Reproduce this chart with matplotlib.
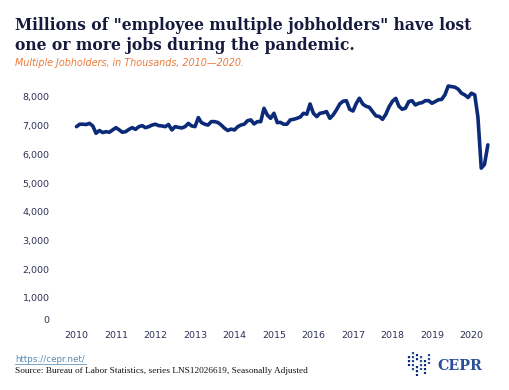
import numpy as np
import pandas as pd
import matplotlib
matplotlib.use("Agg")
import matplotlib.pyplot as plt
import matplotlib.dates as mdates
import matplotlib.transforms as mtransforms
from matplotlib.lines import Line2D
from matplotlib.ticker import FuncFormatter

# monthly values, thousands (Jan 2010 - Jun 2020)
v2010 = [6965, 7050, 7050, 7040, 7080, 6990, 6735, 6830, 6760, 6790, 6770, 6850]
v2011 = [6930, 6850, 6770, 6790, 6870, 6930, 6870, 6965, 7000, 6930, 6965, 7020]
v2012 = [7050, 7000, 6990, 6965, 7040, 6850, 6965, 6940, 6920, 6965, 7080, 6990]
v2013 = [6965, 7280, 7110, 7050, 7020, 7140, 7140, 7110, 7020, 6910, 6830, 6880]
v2014 = [6850, 6965, 7020, 7050, 7170, 7200, 7060, 7140, 7140, 7605, 7370, 7255]
v2015 = [7430, 7105, 7115, 7050, 7050, 7200, 7220, 7255, 7300, 7430, 7400, 7755]
v2016 = [7430, 7315, 7430, 7450, 7490, 7255, 7370, 7550, 7755, 7850, 7870, 7570]
v2017 = [7510, 7780, 7955, 7755, 7675, 7640, 7490, 7340, 7320, 7220, 7400, 7660]
v2018 = [7850, 7950, 7680, 7570, 7610, 7840, 7870, 7720, 7780, 7800, 7870, 7870]
v2019 = [7780, 7840, 7900, 7915, 8075, 8380, 8360, 8340, 8270, 8130, 8070, 7980]
v2020 = [8130, 8070, 7300, 5520, 5650, 6330]

values = v2010 + v2011 + v2012 + v2013 + v2014 + v2015 + v2016 + v2017 + v2018 + v2019 + v2020
dates = pd.date_range("2010-01-01", periods=len(values), freq="MS")
years = list(range(2010, 2021))
yticks = list(range(0, 8001, 1000))

navy = "#0b2a78"
label_col = "#2d2f55"

fig = plt.figure(figsize=(5.1, 3.9), dpi=100)
ax = fig.add_axes([0.116, 0.1626, 0.862, 0.633])
ax.plot(dates, values, color=navy, lw=2.6, solid_joinstyle="round", solid_capstyle="round")

ax.set_xlim(pd.Timestamp("2009-07-25"), pd.Timestamp("2020-09-10"))
ax.set_ylim(0, 8600)
ax.set_xticks([pd.Timestamp(f"{y}-01-01") for y in years])
ax.xaxis.set_major_formatter(mdates.DateFormatter("%Y"))
ax.set_yticks(yticks)
ax.yaxis.set_major_formatter(FuncFormatter(lambda v, p: f"{int(v):,}"))
ax.tick_params(length=0, labelsize=6.8, labelcolor=label_col)
ax.tick_params(axis="y", pad=7)
ax.tick_params(axis="x", pad=3)
for s in ax.spines.values():
    s.set_visible(False)

# the bottom "0" label sits a bit higher in the original
lbl0 = ax.get_yticklabels()[0]
lbl0.set_transform(lbl0.get_transform() + mtransforms.ScaledTranslation(0, 7 / 100, fig.dpi_scale_trans))

fig.text(0.03, 0.935, 'Millions of "employee multiple jobholders" have lost',
         fontsize=11.2, fontweight="bold", family="DejaVu Serif", color="#161a3d", va="center")
fig.text(0.03, 0.884, "one or more jobs during the pandemic.",
         fontsize=11.2, fontweight="bold", family="DejaVu Serif", color="#161a3d", va="center")
fig.text(0.03, 0.839, "Multiple Jobholders, in Thousands, 2010\u20142020.",
         fontsize=6.9, style="italic", color="#ee7a3a", va="center")

fig.text(0.03, 0.077, "https://cepr.net/", fontsize=6.3, color="#5a8bb3", va="center")
fig.add_artist(Line2D([0.03, 0.168], [0.066, 0.066], color="#7fa6c6", lw=0.7))
fig.text(0.03, 0.049, "Source: Bureau of Labor Statistics, series LNS12026619, Seasonally Adjusted",
         fontsize=6.7, family="Liberation Serif", color="#111111", va="center")

# CEPR logo
fig.text(0.858, 0.062, "CEPR", fontsize=10.3, fontweight="bold", family="DejaVu Serif",
         color="#2b4e9b", va="center")
bars = [(409, 356, 366, navy), (413, 352, 372, "#2b4e9b"), (417, 354, 362, navy),
        (417, 366, 376, navy), (421, 356, 370, "#2b4e9b"), (425, 360, 374, navy),
        (429, 354, 364, "#2b4e9b")]
for bx, y0, y1, c in bars:
    fig.add_artist(Line2D([bx / 510, bx / 510], [1 - y0 / 390, 1 - y1 / 390],
                          color=c, lw=1.6, linestyle=(0, (1, 0.8))))

fig.savefig("out.png", dpi=100)
